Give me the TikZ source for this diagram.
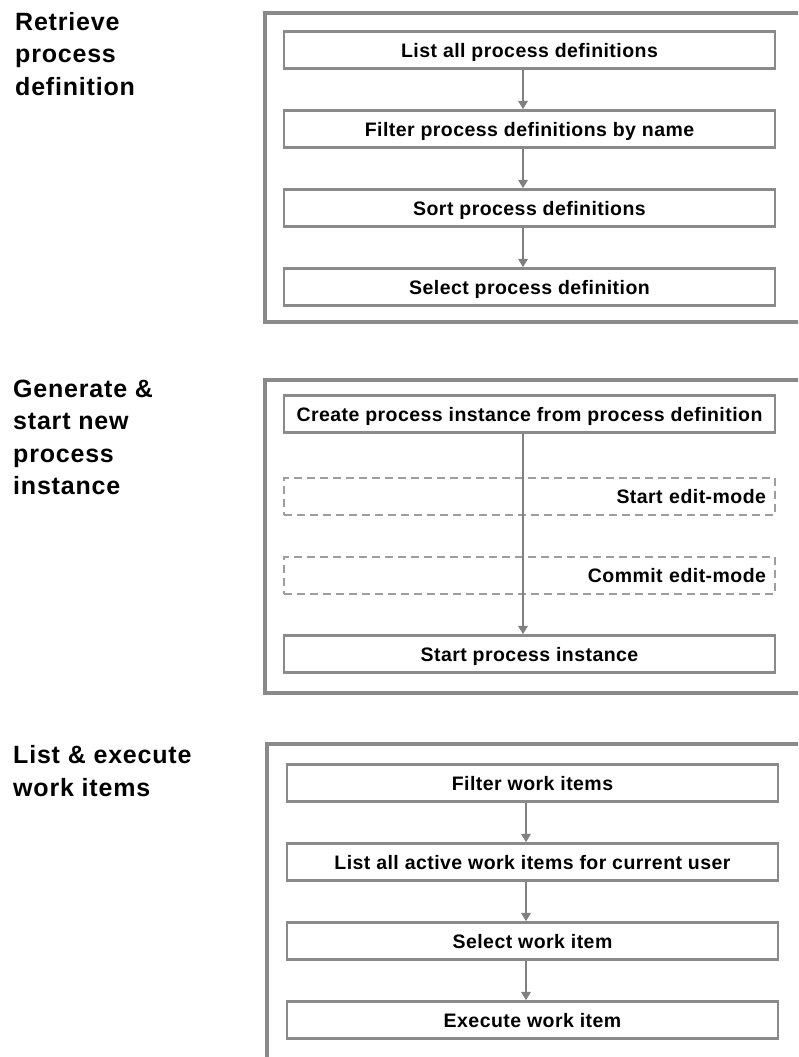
\documentclass[tikz,border=0pt]{standalone}
\usepackage{fontspec}
\usetikzlibrary{arrows.meta}
\newfontfamily\boxfont[LetterSpace=2.3]{Liberation Sans}
\newfontfamily\labfont[LetterSpace=3.2]{Liberation Sans}
\definecolor{framegray}{HTML}{8A8A8A}
\definecolor{boxgray}{HTML}{8A8A8A}
\definecolor{arrowgray}{HTML}{808080}
\definecolor{dashgray}{HTML}{9E9E9E}
\tikzset{
  frame/.style={draw=framegray, line width=4.5pt},
  stepbox/.style={draw=boxgray, line width=2.5pt, fill=white, minimum width=491pt, minimum height=37pt,
    inner sep=0pt, font={\boxfont\bfseries\fontsize{19.5}{23}\selectfont}, text height=14pt, text depth=0pt},
  optbox/.style={draw=dashgray, line width=2pt, dash pattern=on 8pt off 5pt, minimum height=37pt,
    inner xsep=9pt, inner ysep=0pt, text width=473pt, align=right,
    font={\boxfont\bfseries\fontsize{19.5}{23}\selectfont}, text height=14pt, text depth=0pt},
  flow/.style={draw=arrowgray, line width=2.2pt, -{Triangle[width=9.5pt,length=8.5pt]}},
  grouplabel/.style={anchor=base west, inner sep=0pt, font={\labfont\bfseries\fontsize{25}{32.5}\selectfont}}
}
\begin{document}
\begin{tikzpicture}[x=1pt,y=-1pt]
\useasboundingbox (0,0) rectangle (798,1057);
\clip (0,0) rectangle (798,1057);

% group labels
\node[grouplabel] (l1) at (15,30.5) {\begin{tabular}[t]{@{}l@{}}Retrieve\\process\\definition\end{tabular}};
\node[grouplabel] (l2) at (13,397) {\begin{tabular}[t]{@{}l@{}}Generate \&\\start new\\process\\instance\end{tabular}};
\node[grouplabel] (l3) at (13,763.5) {\begin{tabular}[t]{@{}l@{}}List \& execute\\work items\end{tabular}};

% frames
\draw[frame] (265,13) rectangle (830,322);
\draw[frame] (265,380) rectangle (830,693);
\draw[frame] (267,744) rectangle (830,1090);

% group 1
\node[stepbox] (a1) at (529.5,50) {List all process definitions};
\node[stepbox] (a2) at (529.5,129) {Filter process definitions by name};
\node[stepbox] (a3) at (529.5,208) {Sort process definitions};
\node[stepbox] (a4) at (529.5,287) {Select process definition};
\draw[flow] ([xshift=-6.5pt]a1.south) -- ([xshift=-6.5pt]a2.north);
\draw[flow] ([xshift=-6.5pt]a2.south) -- ([xshift=-6.5pt]a3.north);
\draw[flow] ([xshift=-6.5pt]a3.south) -- ([xshift=-6.5pt]a4.north);

% group 2
\node[stepbox] (b1) at (529.5,414) {Create process instance from process definition};
\node[optbox] (b2) at (529.5,496) {Start edit-mode};
\node[optbox] (b3) at (529.5,575) {Commit edit-mode};
\node[stepbox] (b4) at (529.5,654) {Start process instance};
\draw[flow] ([xshift=-6.5pt]b1.south) -- ([xshift=-6.5pt]b4.north);

% group 3
\node[stepbox] (c1) at (532.5,783) {Filter work items};
\node[stepbox] (c2) at (532.5,862) {List all active work items for current user};
\node[stepbox] (c3) at (532.5,941) {Select work item};
\node[stepbox] (c4) at (532.5,1020) {Execute work item};
\draw[flow] ([xshift=-6.5pt]c1.south) -- ([xshift=-6.5pt]c2.north);
\draw[flow] ([xshift=-6.5pt]c2.south) -- ([xshift=-6.5pt]c3.north);
\draw[flow] ([xshift=-6.5pt]c3.south) -- ([xshift=-6.5pt]c4.north);
\end{tikzpicture}
\end{document}
